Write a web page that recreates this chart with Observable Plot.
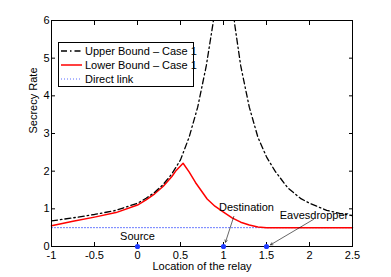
<!DOCTYPE html>
<html><head><meta charset="utf-8">
<script src="https://cdn.jsdelivr.net/npm/d3@7"></script>
<script src="https://cdn.jsdelivr.net/npm/@observablehq/plot@0.6"></script>
<style>
body{margin:0;background:#fff;}
#wrap{position:relative;width:391px;height:277px;font-family:"Liberation Sans",Arial,sans-serif;}
#legend{position:absolute;left:58px;top:42px;width:134px;height:43px;border:1px solid #000;background:#fff;font-size:11px;color:#000;}
.row{position:absolute;left:0;height:14px;line-height:14px;white-space:nowrap;}
.row svg{position:absolute;left:2px;top:0;}
.row span{position:absolute;left:26px;top:0;}
</style></head>
<body><div id="wrap"></div>
<script>
// Upper bound – Case 1 (null = break at the singularity x = 1)
const ubX = [-1,-0.75,-0.5,-0.25,0,0.1,0.2,0.3,0.4,0.5,0.6,0.7,0.8,0.88,0.92,1,1.1,1.13,1.2,1.3,1.4,1.5,1.6,1.75,1.9,2.0,2.2,2.35,2.5];
const ubY = [0.68,0.76,0.85,0.96,1.15,1.28,1.44,1.65,1.93,2.3,2.9,3.7,4.8,5.95,6.8,null,6.6,5.9,4.8,3.7,2.9,2.38,2.0,1.55,1.27,1.15,0.96,0.88,0.82];
// Lower bound – Case 1
const lbX = [-1,-0.75,-0.5,-0.25,0,0.1,0.2,0.3,0.4,0.45,0.53,0.6,0.674,0.81,0.9,1.0,1.1,1.2,1.3,1.4,1.5,2.5];
const lbY = [0.55,0.67,0.78,0.9,1.1,1.24,1.4,1.6,1.86,2.02,2.21,1.98,1.70,1.26,1.07,0.91,0.76,0.645,0.57,0.52,0.5,0.5];
// Direct link
const dlX = [-1,2.5];
const dlY = [0.5,0.5];
// Node positions
const nodeX = [0,1,1.5];
const nodeY = [0,0,0];
// Annotations
const annText = ["Source","Destination","Eavesdropper"];
const annX = [0,1.267,2.052];
const annY = [0.27,1.03,0.82];
const arrX1 = [1.12,2.047];
const arrY1 = [0.80,0.72];
const arrX2 = [1.023,1.547];
const arrY2 = [0.114,0.045];
// Ticks
const xTicks = [-1,-0.5,0,0.5,1,1.5,2,2.5];
const xTickLabels = ["-1","-0.5","0","0.5","1","1.5","2","2.5"];
const yTicks = [0,1,2,3,4,5,6];
const yTickLabels = ["0","1","2","3","4","5","6"];
const xLabel = "Location of the relay";
const yLabel = "Secrecy Rate";
const legendLabels = ["Upper Bound \u2013 Case 1","Lower Bound \u2013 Case 1","Direct link"];

const ub = ubX.map((x,i)=>({x,y:ubY[i]}));
const lb = lbX.map((x,i)=>({x,y:lbY[i]}));
const dl = dlX.map((x,i)=>({x,y:dlY[i]}));
const nodes = nodeX.map((x,i)=>({x,y:nodeY[i]}));
const ann = annText.map((t,i)=>({t,x:annX[i],y:annY[i]}));
const arrs = arrX1.map((x,i)=>({x1:x,y1:arrY1[i],x2:arrX2[i],y2:arrY2[i]}));

const chart = Plot.plot({
  width:391, height:277,
  marginLeft:51, marginRight:39, marginTop:20, marginBottom:31,
  x:{domain:[-1,2.5]},
  y:{domain:[0,6]},
  style:{fontFamily:'"Liberation Sans",Arial,sans-serif', fontSize:"11px", background:"white", color:"black"},
  marks:[
    Plot.line(dl,{x:"x",y:"y",stroke:"#5a6cff",strokeWidth:1,strokeDasharray:"1,2"}),
    Plot.line(lb,{x:"x",y:"y",stroke:"#ff0000",strokeWidth:1.5}),
    Plot.line(ub,{x:"x",y:"y",stroke:"black",strokeWidth:1.3,strokeDasharray:"6,3,1.5,3",clip:true}),
    Plot.frame({stroke:"black"}),
    Plot.axisX(xTicks,{anchor:"bottom",tickSize:-4,tickPadding:9,tickFormat:d=>xTickLabels[xTicks.indexOf(d)],label:null}),
    Plot.axisX(xTicks,{anchor:"top",tickSize:-4,tickFormat:()=>"",label:null}),
    Plot.axisY(yTicks,{anchor:"left",tickSize:-4,tickPadding:6,tickFormat:d=>yTickLabels[yTicks.indexOf(d)],label:null}),
    Plot.axisY(yTicks,{anchor:"right",tickSize:-4,tickFormat:()=>"",label:null}),
    Plot.text(ann,{x:"x",y:"y",text:"t",fill:"black",fontSize:11}),
    Plot.arrow(arrs,{x1:"x1",y1:"y1",x2:"x2",y2:"y2",stroke:"black",strokeWidth:0.6,headLength:6}),
    Plot.dot(nodes,{x:"x",y:"y",r:2.6,fill:"#1f3cff",stroke:"none"}),
    Plot.text([xLabel],{frameAnchor:"bottom",lineAnchor:"middle",dy:20,fill:"black",fontSize:11}),
    Plot.text([yLabel],{frameAnchor:"left",dx:-18,rotate:-90,fill:"black",fontSize:11})
  ]
});
const wrap = document.getElementById("wrap");
wrap.appendChild(chart);

const legend = document.createElement("div");
legend.id = "legend";
const samples = [
  '<line x1="0" y1="7" x2="21" y2="7" stroke="black" stroke-width="1.3" stroke-dasharray="6,3,1.5,3"/>',
  '<line x1="0" y1="7" x2="21" y2="7" stroke="#ff0000" stroke-width="1.5"/>',
  '<line x1="0" y1="7" x2="21" y2="7" stroke="#5a6cff" stroke-width="1" stroke-dasharray="1,2"/>'
];
const rowTops = [1.3,15,29];
legendLabels.forEach((lab,i)=>{
  const r = document.createElement("div");
  r.className="row";
  r.style.top = rowTops[i]+"px";
  r.innerHTML = `<svg width="22" height="14">${samples[i]}</svg><span>${lab}</span>`;
  legend.appendChild(r);
});
wrap.appendChild(legend);
</script>
</body></html>
